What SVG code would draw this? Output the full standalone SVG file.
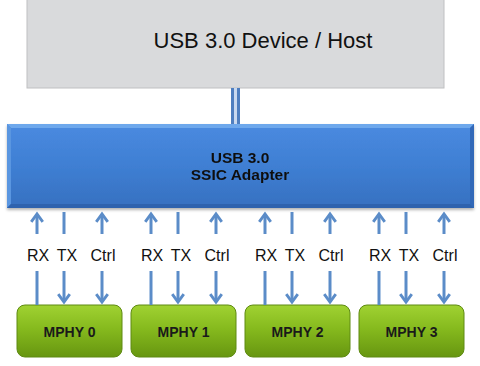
<svg xmlns="http://www.w3.org/2000/svg" width="480" height="366" viewBox="0 0 480 366">
<defs>
<linearGradient id="gBlue" x1="0" y1="0" x2="0" y2="1">
<stop offset="0" stop-color="#4a8ae0"/>
<stop offset="0.5" stop-color="#3f7fd3"/>
<stop offset="1" stop-color="#3670c0"/>
</linearGradient>
<linearGradient id="gGreen" x1="0" y1="0" x2="0" y2="1">
<stop offset="0" stop-color="#a0d232"/>
<stop offset="0.45" stop-color="#86ba1e"/>
<stop offset="1" stop-color="#679610"/>
</linearGradient>
<marker id="ah" viewBox="0 0 10 10" refX="7" refY="5" markerWidth="4.8" markerHeight="4.8" orient="auto" markerUnits="strokeWidth">
<path d="M1.5,1 L7,5 L1.5,9" fill="none" stroke="#5b8cc8" stroke-width="2" stroke-linejoin="miter"/>
</marker>
<filter id="sh" x="-5%" y="-10%" width="110%" height="130%">
<feDropShadow dx="0" dy="2" stdDeviation="1.5" flood-color="#000" flood-opacity="0.3"/>
</filter>
</defs>
<style>
.lbl{font-family:"Liberation Sans",Arial,sans-serif;font-size:16px;fill:#111}
.ph{font-family:"Liberation Sans",Arial,sans-serif;font-size:14px;font-weight:bold;fill:#1a1a1a;text-anchor:middle}
.ln{stroke:#5b8cc8;stroke-width:3;fill:none}
.arr{stroke:#5b8cc8;stroke-width:3;fill:none;marker-end:url(#ah)}
.mp{fill:url(#gGreen);stroke:#5e8a12;stroke-width:1}
</style>
<rect width="480" height="366" fill="#ffffff"/>

<g id="host">
<rect x="27" y="-1" width="417" height="89" fill="#d9dadc" stroke="#bfc0c2" stroke-width="1"/>
<text x="263" y="48" font-family="'Liberation Sans',Arial,sans-serif" font-size="22" fill="#111" text-anchor="middle">USB 3.0 Device / Host</text>
</g>

<g id="adapter" filter="url(#sh)">
<rect x="7" y="124" width="467" height="84" fill="url(#gBlue)"/>
<polygon points="7,124 474,124 470,128 11,128" fill="#6ea8ec"/>
<polygon points="7,124 11,128 11,204 7,208" fill="#5a96e0"/>
<polygon points="474,124 474,208 470,204 470,128" fill="#3068b8"/>
<polygon points="7,208 11,204 470,204 474,208" fill="#2d62ae"/>
<text x="240" y="163" font-family="'Liberation Sans',Arial,sans-serif" font-size="15.5" font-weight="bold" fill="#111" text-anchor="middle">USB 3.0</text>
<text x="240" y="180" font-family="'Liberation Sans',Arial,sans-serif" font-size="15.5" font-weight="bold" fill="#111" text-anchor="middle">SSIC Adapter</text>
</g>

<g id="mphy0"><rect class="mp" x="17" y="305" width="105" height="52" rx="8"/><text class="ph" x="69.5" y="337">MPHY 0</text></g>
<g id="mphy1"><rect class="mp" x="131" y="305" width="105" height="52" rx="8"/><text class="ph" x="183.5" y="337">MPHY 1</text></g>
<g id="mphy2"><rect class="mp" x="245" y="305" width="105" height="52" rx="8"/><text class="ph" x="297.5" y="337">MPHY 2</text></g>
<g id="mphy3"><rect class="mp" x="359" y="305" width="105" height="52" rx="8"/><text class="ph" x="411.5" y="337">MPHY 3</text></g>

<g id="connectors">
<rect x="231" y="88" width="9" height="36" fill="#4f7fc0"/>
<rect x="234" y="88" width="3" height="36" fill="#c9d9f0"/>

<g id="c0">
<line class="arr" x1="37" y1="234" x2="37" y2="214"/>
<line class="ln" x1="64" y1="212" x2="64" y2="234"/>
<line class="arr" x1="102" y1="234" x2="102" y2="214"/>
<line class="ln" x1="37" y1="271" x2="37" y2="305"/>
<line class="arr" x1="64" y1="271" x2="64" y2="302"/>
<line class="arr" x1="102" y1="271" x2="102" y2="302"/>
</g>
<g id="c1">
<line class="arr" x1="151" y1="234" x2="151" y2="214"/>
<line class="ln" x1="178" y1="212" x2="178" y2="234"/>
<line class="arr" x1="216" y1="234" x2="216" y2="214"/>
<line class="ln" x1="151" y1="271" x2="151" y2="305"/>
<line class="arr" x1="178" y1="271" x2="178" y2="302"/>
<line class="arr" x1="216" y1="271" x2="216" y2="302"/>
</g>
<g id="c2">
<line class="arr" x1="265" y1="234" x2="265" y2="214"/>
<line class="ln" x1="292" y1="212" x2="292" y2="234"/>
<line class="arr" x1="330" y1="234" x2="330" y2="214"/>
<line class="ln" x1="265" y1="271" x2="265" y2="305"/>
<line class="arr" x1="292" y1="271" x2="292" y2="302"/>
<line class="arr" x1="330" y1="271" x2="330" y2="302"/>
</g>
<g id="c3">
<line class="arr" x1="379" y1="234" x2="379" y2="214"/>
<line class="ln" x1="406" y1="212" x2="406" y2="234"/>
<line class="arr" x1="444" y1="234" x2="444" y2="214"/>
<line class="ln" x1="379" y1="271" x2="379" y2="305"/>
<line class="arr" x1="406" y1="271" x2="406" y2="302"/>
<line class="arr" x1="444" y1="271" x2="444" y2="302"/>
</g>
</g>

<g id="labels" text-anchor="middle">
<text class="lbl" x="38" y="261">RX</text><text class="lbl" x="67" y="261">TX</text><text class="lbl" x="103" y="261">Ctrl</text>
<text class="lbl" x="152" y="261">RX</text><text class="lbl" x="181" y="261">TX</text><text class="lbl" x="217" y="261">Ctrl</text>
<text class="lbl" x="266" y="261">RX</text><text class="lbl" x="295" y="261">TX</text><text class="lbl" x="331" y="261">Ctrl</text>
<text class="lbl" x="380" y="261">RX</text><text class="lbl" x="409" y="261">TX</text><text class="lbl" x="445" y="261">Ctrl</text>
</g>
</svg>
